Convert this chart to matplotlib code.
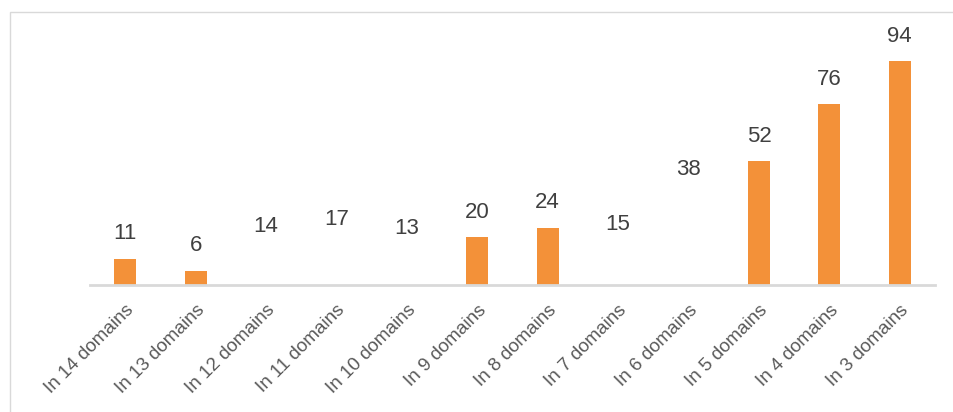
import matplotlib
matplotlib.use("Agg")
import matplotlib.pyplot as plt
from matplotlib.patches import Rectangle

categories = ["In 14 domains", "In 13 domains", "In 12 domains", "In 11 domains",
              "In 10 domains", "In 9 domains", "In 8 domains", "In 7 domains",
              "In 6 domains", "In 5 domains", "In 4 domains", "In 3 domains"]
values = [11, 6, 14, 17, 13, 20, 24, 15, 38, 52, 76, 94]
visible = [True, True, False, False, False, True, True, False, False, True, True, True]

plt.rcParams['font.family'] = ['Liberation Sans', 'DejaVu Sans']

fig = plt.figure(figsize=(9.54, 4.12), dpi=100)
ax = fig.add_axes([90/954, 1-285/412, 845/954, 265/412])

orange = "#F39139"
x = list(range(len(categories)))
colors = [orange if v else 'none' for v in visible]
bars = ax.bar(x, values, width=0.31, color=colors, edgecolor='none', zorder=2)

for xi, v in zip(x, values):
    ax.annotate(str(v), (xi, v), xytext=(0, 10.5), textcoords='offset points',
                ha='center', va='bottom', fontsize=16, color='#404040')

ax.set_xlim(-0.5, len(categories)-0.5)
ax.set_ylim(0, 265/2.38)
for s in ['top', 'right', 'left']:
    ax.spines[s].set_visible(False)
ax.spines['bottom'].set_color('#d9d9d9')
ax.spines['bottom'].set_linewidth(2)
ax.set_yticks([])
ax.set_xticks(x)
ax.set_xticklabels(categories, rotation=45, ha='right', va='top',
                   rotation_mode='anchor', fontsize=13.5, color='#595959')
ax.tick_params(axis='x', length=0, pad=12)

# outer frame
fig.patches.append(Rectangle((10/954, -0.1), 1.0, 1 - 12/412 + 0.1,
                             transform=fig.transFigure, fill=False,
                             edgecolor='#d9d9d9', linewidth=1))

fig.savefig("out.png", dpi=100)
